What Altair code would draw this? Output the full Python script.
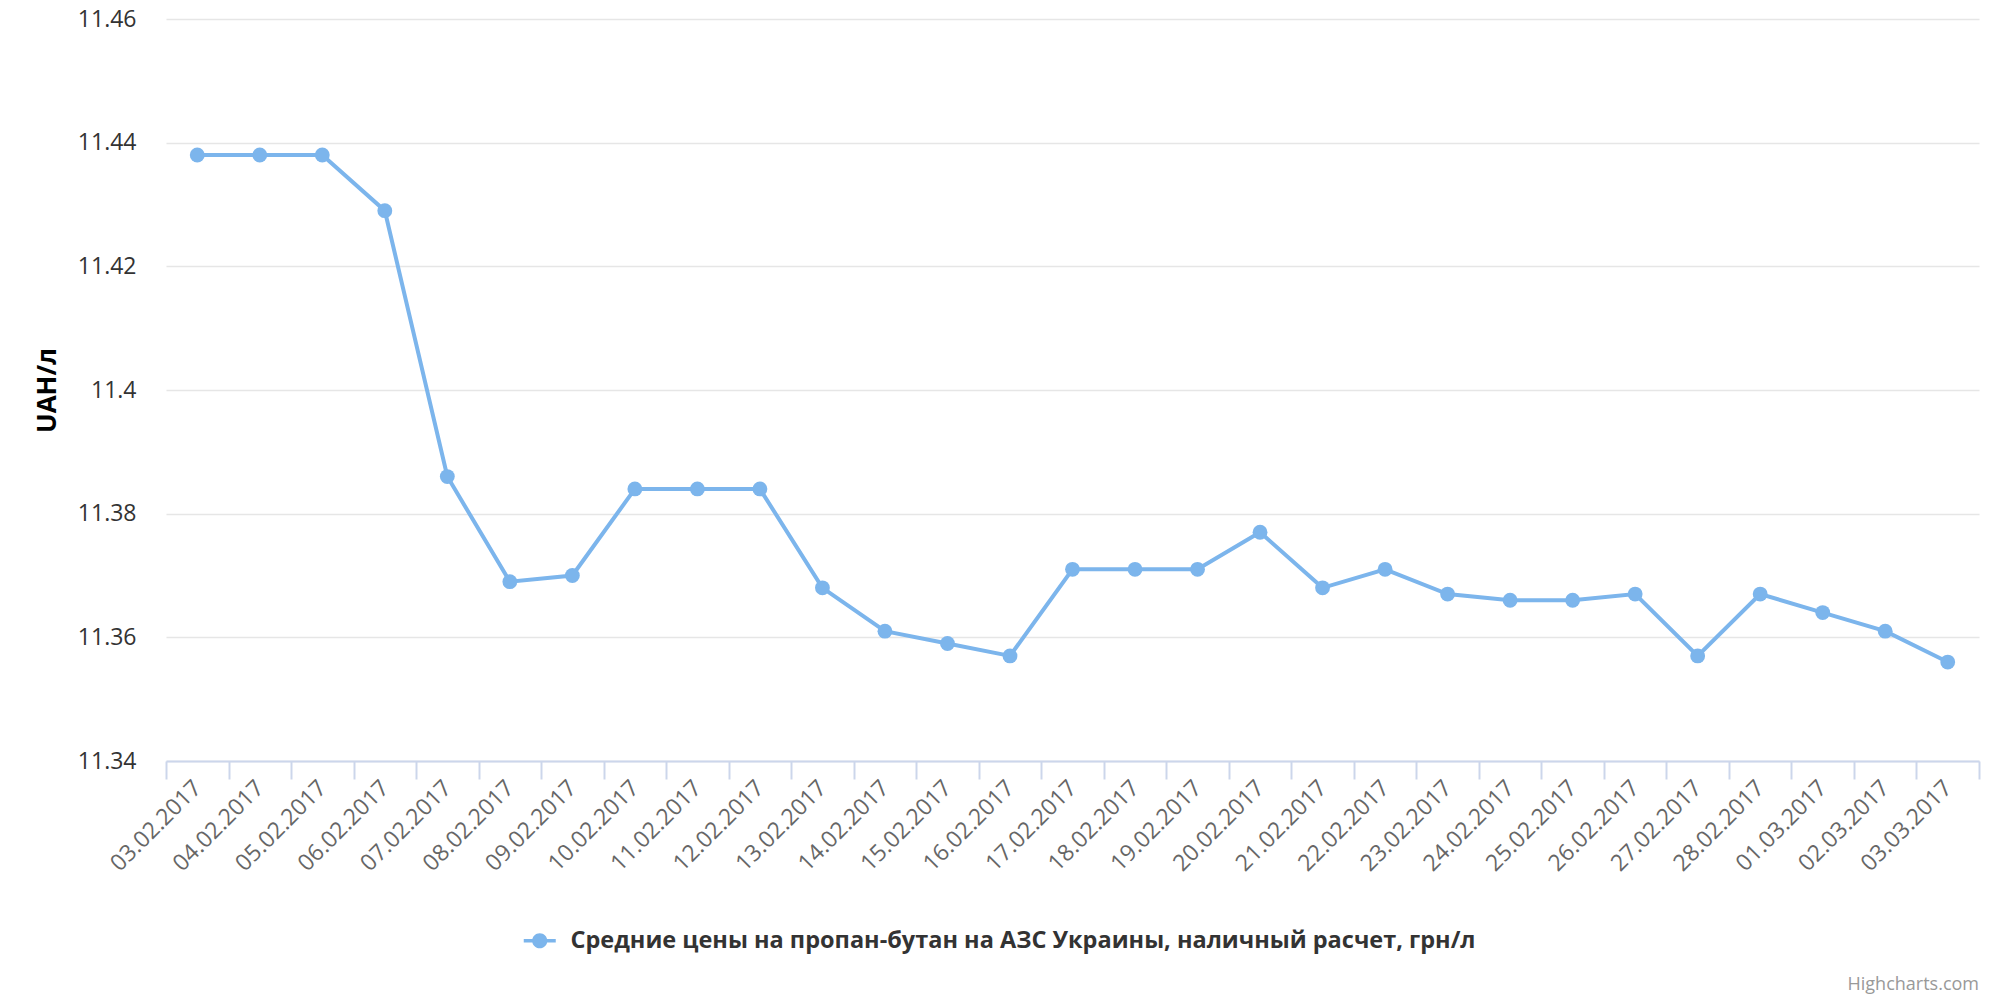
import altair as alt
import pandas as pd

dates = ["03.02.2017", "04.02.2017", "05.02.2017", "06.02.2017", "07.02.2017",
         "08.02.2017", "09.02.2017", "10.02.2017", "11.02.2017", "12.02.2017",
         "13.02.2017", "14.02.2017", "15.02.2017", "16.02.2017", "17.02.2017",
         "18.02.2017", "19.02.2017", "20.02.2017", "21.02.2017", "22.02.2017",
         "23.02.2017", "24.02.2017", "25.02.2017", "26.02.2017", "27.02.2017",
         "28.02.2017", "01.03.2017", "02.03.2017", "03.03.2017"]
values = [11.438, 11.438, 11.438, 11.429, 11.386, 11.369, 11.370, 11.384, 11.384,
          11.384, 11.368, 11.361, 11.359, 11.357, 11.371, 11.371, 11.371, 11.377,
          11.368, 11.371, 11.367, 11.366, 11.366, 11.367, 11.357, 11.367, 11.364,
          11.361, 11.356]
series_name = "Средние цены на пропан-бутан на АЗС Украины, наличный расчет, грн/л"
y_ticks = [11.34, 11.36, 11.38, 11.40, 11.42, 11.44, 11.46]
credits = ["Highcharts.com"]

COLOR = "#7cb5ec"
FONT = "Open Sans"

df = pd.DataFrame({"date": dates, "value": values, "series": [series_name] * len(dates)})

x_enc = alt.X(
    "date:N", sort=None, bandPosition=0.5,
    scale=alt.Scale(type="band", paddingInner=0, paddingOuter=0),
    axis=alt.Axis(
        title=None, tickBand="extent", labelAngle=-45, labelAlign="right",
        labelBaseline="middle", labelFontSize=23, labelColor="#666666",
        labelFont=FONT, labelPadding=5, tickSize=18, tickWidth=2,
        tickColor="#ccd6eb", domainColor="#ccd6eb", domainWidth=2,
        grid=False, labelOverlap=False, labelFlush=False,
    ),
)
y_enc = alt.Y(
    "value:Q",
    scale=alt.Scale(domain=[11.34, 11.46], nice=False, zero=False),
    axis=alt.Axis(
        title="UAH/л", values=y_ticks, format=".2~f", ticks=False, domain=False,
        labelFontSize=23, labelColor="#333333", labelFont=FONT, labelPadding=30,
        gridColor="#e6e6e6", gridWidth=1.5,
        titleFont=FONT, titleFontSize=26, titleFontWeight="bold", titleColor="#000000",
        titleX=-119, titleY=371, titleAngle=-90, titleAlign="center",
        titleBaseline="middle",
    ),
)

line = alt.Chart(df).mark_line(color=COLOR, strokeWidth=4).encode(x=x_enc, y=y_enc)

legend_symbol = ("M-2,-0.22L2,-0.22L2,0.22L-2,0.22Z"
                 "M-0.95,0A0.95,0.95,0,1,1,0.95,0A0.95,0.95,0,1,1,-0.95,0Z")

points = alt.Chart(df).mark_point(filled=True, size=220, opacity=1).encode(
    x=x_enc, y=y_enc,
    color=alt.Color(
        "series:N",
        scale=alt.Scale(range=[COLOR]),
        legend=alt.Legend(
            title=None, orient="none", legendX=362, legendY=910,
            symbolType=legend_symbol, symbolSize=256, symbolOpacity=1,
            labelFont=FONT, labelFontSize=23.5, labelFontWeight="bold",
            labelColor="#333333", labelLimit=2000, labelOffset=19, padding=0,
        ),
    ),
)

cred = alt.Chart(pd.DataFrame({"t": credits})).mark_text(
    align="right", baseline="alphabetic", font=FONT, fontSize=18, color="#999999"
).encode(text="t:N", x=alt.value(1813), y=alt.value(971))

chart = alt.layer(line, points, cred).properties(
    width=1813, height=742,
    autosize=alt.AutoSizeParams(type="none"),
    padding={"left": 166, "top": 19, "right": 21, "bottom": 239},
    background="white",
).configure_view(stroke=None)

chart.save("out.html", embed_options={"renderer": "svg", "actions": False})
